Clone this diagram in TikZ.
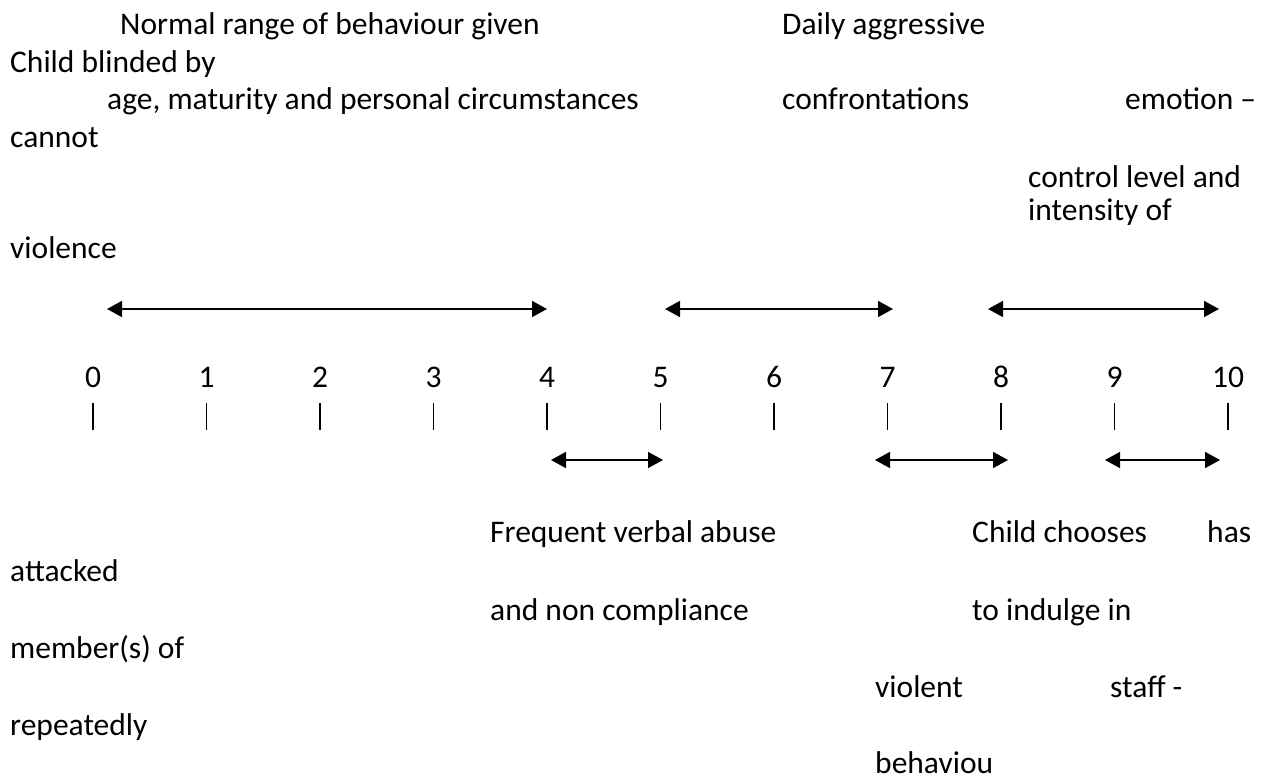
\documentclass[tikz,border=0pt]{standalone}
\usepackage{fontspec}
\setmainfont{Carlito}
\usetikzlibrary{arrows.meta}
\tikzstyle{txt} = [anchor=base west, inner sep=0pt, font=\fontsize{31.5}{38}\selectfont]
\tikzstyle{num} = [anchor=base, inner sep=0pt, font=\fontsize{31.5}{38}\selectfont]
\tikzstyle{arrow} = [{Triangle[length=15pt,width=16pt]}-{Triangle[length=15pt,width=16pt]}, line width=1.6pt]
\tikzstyle{tick} = [line width=1.2pt]

\begin{document}
\begin{tikzpicture}[x=1pt, y=-1pt]
    \useasboundingbox (0,0) rectangle (1268,778);

    % Labels above the scale
    \node[txt] (normal) at (120,35) {Normal range of behaviour given};
    \node[txt] (daily) at (782,35) {Daily aggressive};
    \node[txt] (blinded) at (10,73) {Child blinded by};
    \node[txt] (age) at (107,110) {age, maturity and personal circumstances};
    \node[txt] (confront) at (782,110) {confrontations};
    \node[txt] (emotion) at (1125,110) {emotion --};
    \node[txt] (cannot) at (10,148) {cannot};
    \node[txt] (control) at (1028,187) {control level and};
    \node[txt] (intensity) at (1028,220) {intensity of};
    \node[txt] (violence) at (10,258) {violence};

    % Ranges above the scale
    \coordinate (top1a) at (107,309);
    \coordinate (top1b) at (547,309);
    \coordinate (top2a) at (665,309);
    \coordinate (top2b) at (893,309);
    \coordinate (top3a) at (988,309);
    \coordinate (top3b) at (1219,309);
    \draw[arrow] (top1a) -- (top1b);
    \draw[arrow] (top2a) -- (top2b);
    \draw[arrow] (top3a) -- (top3b);

    % Scale 0 to 10
    \foreach \i in {0,...,10} {
        \node[num] (n\i) at ({93+113.5*\i},387) {\i};
        \coordinate (ta\i) at ({93+113.5*\i},403);
        \coordinate (tb\i) at ({93+113.5*\i},430);
        \draw[tick] (ta\i) -- (tb\i);
    }

    % Ranges below the scale
    \coordinate (bot1a) at (551,460);
    \coordinate (bot1b) at (663,460);
    \coordinate (bot2a) at (875,460);
    \coordinate (bot2b) at (1008,460);
    \coordinate (bot3a) at (1105,460);
    \coordinate (bot3b) at (1220,460);
    \draw[arrow] (bot1a) -- (bot1b);
    \draw[arrow] (bot2a) -- (bot2b);
    \draw[arrow] (bot3a) -- (bot3b);

    % Labels below the scale
    \node[txt] (verbal) at (490,542) {Frequent verbal abuse};
    \node[txt] (chooses) at (972,542) {Child chooses};
    \node[txt] (has) at (1207,542) {has};
    \node[txt] (attacked) at (10,581) {attacked};
    \node[txt] (noncomp) at (490,620) {and non compliance};
    \node[txt] (indulge) at (972,620) {to indulge in};
    \node[txt] (members) at (10,658) {member(s) of};
    \node[txt] (violent) at (875,697) {violent};
    \node[txt] (staff) at (1110,697) {staff -};
    \node[txt] (repeat) at (10,735) {repeatedly};
    \node[txt] (behav) at (875,773) {behaviou};

\end{tikzpicture}
\end{document}
